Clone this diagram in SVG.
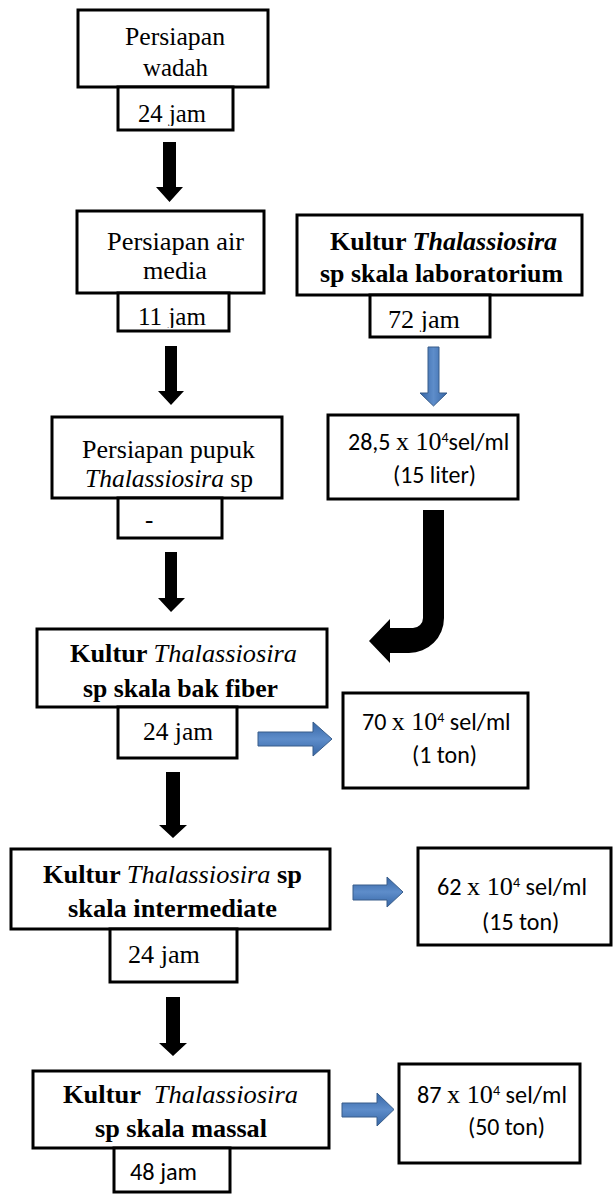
<svg xmlns="http://www.w3.org/2000/svg" width="613" height="1197" viewBox="0 0 613 1197">
<style>
.box{fill:#fff;stroke:#000;stroke-width:3}
.t{font-family:"Liberation Serif","Times New Roman",serif;font-size:25px;fill:#000}
.b{font-weight:bold}
.i{font-style:italic}
.s{font-family:Carlito,"Liberation Sans",sans-serif;font-size:24px;fill:#000}
.sr{font-family:"Liberation Serif","Times New Roman",serif;font-size:26px}
.sup{font-size:14px}
.blk{fill:#000}
.blu{fill:url(#gh);stroke:#385D8A;stroke-width:1}
.bluv{fill:url(#gv);stroke:#385D8A;stroke-width:1}
</style>
<defs>
<linearGradient id="gh" x1="0" y1="0" x2="0" y2="1"><stop offset="0" stop-color="#3666A6"/><stop offset="0.5" stop-color="#5E8DCA"/><stop offset="1" stop-color="#3666A6"/></linearGradient>
<linearGradient id="gv" x1="0" y1="0" x2="1" y2="0"><stop offset="0" stop-color="#3666A6"/><stop offset="0.5" stop-color="#5E8DCA"/><stop offset="1" stop-color="#3666A6"/></linearGradient>
<clipPath id="c1"><rect x="0" y="0" width="613" height="126"/></clipPath>
<clipPath id="c2"><rect x="0" y="0" width="613" height="328"/></clipPath>
<clipPath id="c3"><rect x="0" y="0" width="613" height="332"/></clipPath>
<clipPath id="c6"><rect x="0" y="0" width="613" height="704"/></clipPath>
<clipPath id="c10"><rect x="0" y="0" width="613" height="1145"/></clipPath>
</defs>

<g id="connectors">
<path class="blk" d="M163,142 H176 V187 H183 L169.5,202 L156,187 H163 Z"/>
<path class="blk" d="M165,346 H177 V391 H184 L171,405 L158,391 H165 Z"/>
<path class="blk" d="M165,552 H177 V598 H185 L171,612 L158,598 H165 Z"/>
<path class="blk" d="M166,772 H180 V825 H187 L173,838 L159,825 H166 Z"/>
<path class="blk" d="M166,997 H180 V1043 H187 L173,1056 L159,1043 H166 Z"/>
<path class="blk" d="M423,510 H444 V618 A35,35 0 0 1 409,653 H390 V663 L369,641 L390,619 V628 H413 A10,10 0 0 0 423,618 Z"/>
<path class="bluv" d="M428,347 H439 V393 H447 L433.5,406 L420,393 H428 Z"/>
<path class="blu" d="M258,732 H313 V722 L332,739 L313,756 V746 H258 Z"/>
<path class="blu" d="M353,885 H387 V877 L403,892 L387,907 V900 H353 Z"/>
<path class="blu" d="M342,1103 H377 V1093 L394,1109.5 L377,1126 V1117 H342 Z"/>
</g>

<g id="n1">
<rect class="box" x="78" y="10" width="190" height="77"/>
<text class="t" x="125" y="45" textLength="100" lengthAdjust="spacingAndGlyphs">Persiapan</text>
<text class="t" x="143" y="76" textLength="65" lengthAdjust="spacingAndGlyphs">wadah</text>
<rect class="box" x="118" y="87" width="115" height="43"/>
<text class="t" x="138" y="122" textLength="68" lengthAdjust="spacingAndGlyphs" clip-path="url(#c1)">24 jam</text>
</g>

<g id="n2">
<rect class="box" x="77" y="211" width="187" height="82"/>
<text class="t" x="107" y="250" textLength="137" lengthAdjust="spacingAndGlyphs">Persiapan air</text>
<text class="t" x="143" y="279" textLength="64" lengthAdjust="spacingAndGlyphs">media</text>
<rect class="box" x="118" y="293" width="111" height="38"/>
<text class="t" x="138" y="325" textLength="68" lengthAdjust="spacingAndGlyphs" clip-path="url(#c2)">11 jam</text>
</g>

<g id="n3">
<rect class="box" x="297" y="215" width="285" height="80"/>
<text class="t b" x="330" y="250" textLength="227" lengthAdjust="spacingAndGlyphs">Kultur <tspan class="i">Thalassiosira</tspan></text>
<text class="t b" x="320" y="282" textLength="243" lengthAdjust="spacingAndGlyphs">sp skala laboratorium</text>
<rect class="box" x="370" y="295" width="120" height="42"/>
<text class="t" x="388" y="328" textLength="72" lengthAdjust="spacingAndGlyphs" clip-path="url(#c3)">72 jam</text>
</g>

<g id="n4">
<rect class="box" x="328" y="415" width="190" height="84"/>
<text class="s" x="348" y="450">28,5 <tspan class="sr">x 10</tspan><tspan class="sup" dy="-8">4</tspan><tspan dy="8">sel/ml</tspan></text>
<text class="s" x="393" y="483" textLength="83" lengthAdjust="spacingAndGlyphs">(15 liter)</text>
</g>

<g id="n5">
<rect class="box" x="52" y="417" width="230" height="81"/>
<text class="t" x="82" y="458" textLength="173" lengthAdjust="spacingAndGlyphs">Persiapan pupuk</text>
<text class="t" x="85" y="487" textLength="168" lengthAdjust="spacingAndGlyphs"><tspan class="i">Thalassiosira</tspan> sp</text>
<rect class="box" x="118" y="498" width="104" height="40"/>
<text class="t" x="145" y="528">-</text>
</g>

<g id="n6">
<rect class="box" x="37" y="629" width="290" height="78"/>
<text class="t b" x="70" y="662" textLength="227" lengthAdjust="spacingAndGlyphs">Kultur <tspan class="i" font-weight="normal">Thalassiosira</tspan></text>
<text class="t b" x="83" y="697" textLength="195" lengthAdjust="spacingAndGlyphs" clip-path="url(#c6)">sp skala bak fiber</text>
<rect class="box" x="118" y="707" width="119" height="51"/>
<text class="t" x="143" y="740" textLength="70" lengthAdjust="spacingAndGlyphs">24 jam</text>
</g>

<g id="n7">
<rect class="box" x="343" y="693" width="185" height="95"/>
<text class="s" x="362" y="730">70 <tspan class="sr">x 10</tspan><tspan class="sup" dy="-8">4</tspan><tspan dy="8"> sel/ml</tspan></text>
<text class="s" x="412" y="763" textLength="65" lengthAdjust="spacingAndGlyphs">(1 ton)</text>
</g>

<g id="n8">
<rect class="box" x="11" y="849" width="319" height="80"/>
<text class="t b" x="43" y="883" textLength="259" lengthAdjust="spacingAndGlyphs">Kultur <tspan class="i" font-weight="normal">Thalassiosira</tspan> sp</text>
<text class="t b" x="68" y="917" textLength="209" lengthAdjust="spacingAndGlyphs">skala intermediate</text>
<rect class="box" x="110" y="929" width="127" height="53"/>
<text class="t" x="128" y="963" textLength="72" lengthAdjust="spacingAndGlyphs">24 jam</text>
</g>

<g id="n9">
<rect class="box" x="418" y="848" width="193" height="97"/>
<text class="s" x="437" y="895" textLength="150" lengthAdjust="spacingAndGlyphs">62 <tspan class="sr">x 10</tspan><tspan class="sup" dy="-8">4</tspan><tspan dy="8"> sel/ml</tspan></text>
<text class="s" x="482" y="930">(15 ton)</text>
</g>

<g id="n10">
<rect class="box" x="33" y="1071" width="296" height="77"/>
<text class="t b" x="63" y="1103" textLength="235" lengthAdjust="spacingAndGlyphs" xml:space="preserve">Kultur  <tspan class="i" font-weight="normal">Thalassiosira</tspan></text>
<text class="t b" x="95" y="1137" textLength="172" lengthAdjust="spacingAndGlyphs" clip-path="url(#c10)">sp skala massal</text>
<rect class="box" x="114" y="1148" width="116" height="44"/>
<text class="s" x="130" y="1180" textLength="67" lengthAdjust="spacingAndGlyphs">48 jam</text>
</g>

<g id="n11">
<rect class="box" x="399" y="1064" width="181" height="99"/>
<text class="s" x="417" y="1103" textLength="150" lengthAdjust="spacingAndGlyphs">87 <tspan class="sr">x 10</tspan><tspan class="sup" dy="-8">4</tspan><tspan dy="8"> sel/ml</tspan></text>
<text class="s" x="468" y="1135" textLength="77" lengthAdjust="spacingAndGlyphs">(50 ton)</text>
</g>
</svg>
